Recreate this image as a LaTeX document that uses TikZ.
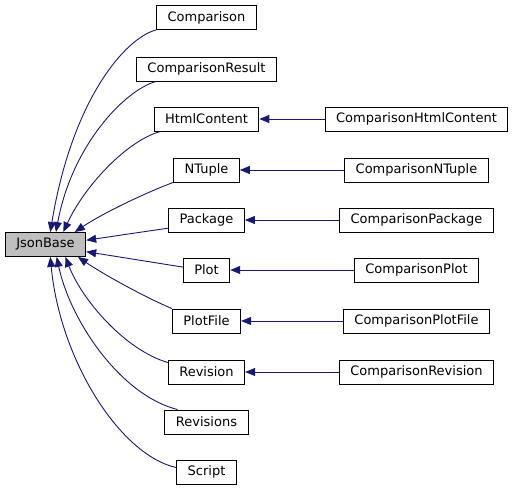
\documentclass[tikz,border=0pt]{standalone}
\usepackage{fontspec}
\setmainfont{DejaVu Sans}
\usetikzlibrary{arrows.meta}
\definecolor{edgeblue}{RGB}{25,25,112}
\definecolor{basegray}{RGB}{191,191,191}
\tikzset{
  cls/.style={draw=black, fill=white, font=\fontsize{13}{15}\selectfont,
    minimum height=24pt, inner xsep=11pt, inner ysep=0pt, line width=0.9pt},
  basecls/.style={cls, fill=basegray},
  inh/.style={draw=edgeblue, line width=0.9pt, -{Triangle[length=10pt,width=8pt]}},
}
\begin{document}
\begin{tikzpicture}[x=1pt,y=-1pt]
\useasboundingbox (0,0) rectangle (515,493);
\node[basecls] (JsonBase) at (45.5,244.5) {JsonBase};
% first level
\node[cls] (Comparison) at (206.5,17.5) {Comparison};
\node[cls] (ComparisonResult) at (206.5,69) {ComparisonResult};
\node[cls] (HtmlContent) at (206.5,119) {HtmlContent};
\node[cls] (NTuple) at (206.5,170) {NTuple};
\node[cls] (Package) at (206.5,220) {Package};
\node[cls] (Plot) at (206.5,270) {Plot};
\node[cls] (PlotFile) at (206.5,321) {PlotFile};
\node[cls] (Revision) at (206.5,372) {Revision};
\node[cls] (Revisions) at (206.5,422) {Revisions};
\node[cls] (Script) at (206.5,472) {Script};
% second level
\foreach \nm/\y in {HtmlContent/119,NTuple/170,Package/220,Plot/270,PlotFile/321,Revision/372} {
    \node[cls] (Comparison\nm) at (416.5,\y) {Comparison\nm};
    \draw[inh] (Comparison\nm) -- (\nm);
}
% edges to JsonBase
\draw[inh] (Comparison.south west) .. controls (125,38) and (72,100) .. (JsonBase.69);
\draw[inh] ([xshift=20pt]ComparisonResult.south west) .. controls (125,90) and (72,145) .. (JsonBase.50);
\draw[inh] ([xshift=7pt]HtmlContent.south west) .. controls (128,140) and (85,185) .. (JsonBase.35);
\draw[inh] (NTuple.south west) .. controls (140,195) and (100,215) .. (JsonBase.23);
\draw[inh] (Package.192) -- (JsonBase.6);
\draw[inh] (Plot.173) -- (JsonBase.-10);
\draw[inh] (PlotFile.north west) .. controls (140,295) and (100,272) .. (JsonBase.-21);
\draw[inh] ([yshift=-3pt]Revision.north west) .. controls (125,350) and (82,300) .. (JsonBase.-32);
\draw[inh] ([xshift=13pt]Revisions.north west) .. controls (120,395) and (70,320) .. (JsonBase.-48);
\draw[inh] ([yshift=-8pt]Script.north west) .. controls (120,455) and (60,360) .. (JsonBase.-69);
\end{tikzpicture}
\end{document}
